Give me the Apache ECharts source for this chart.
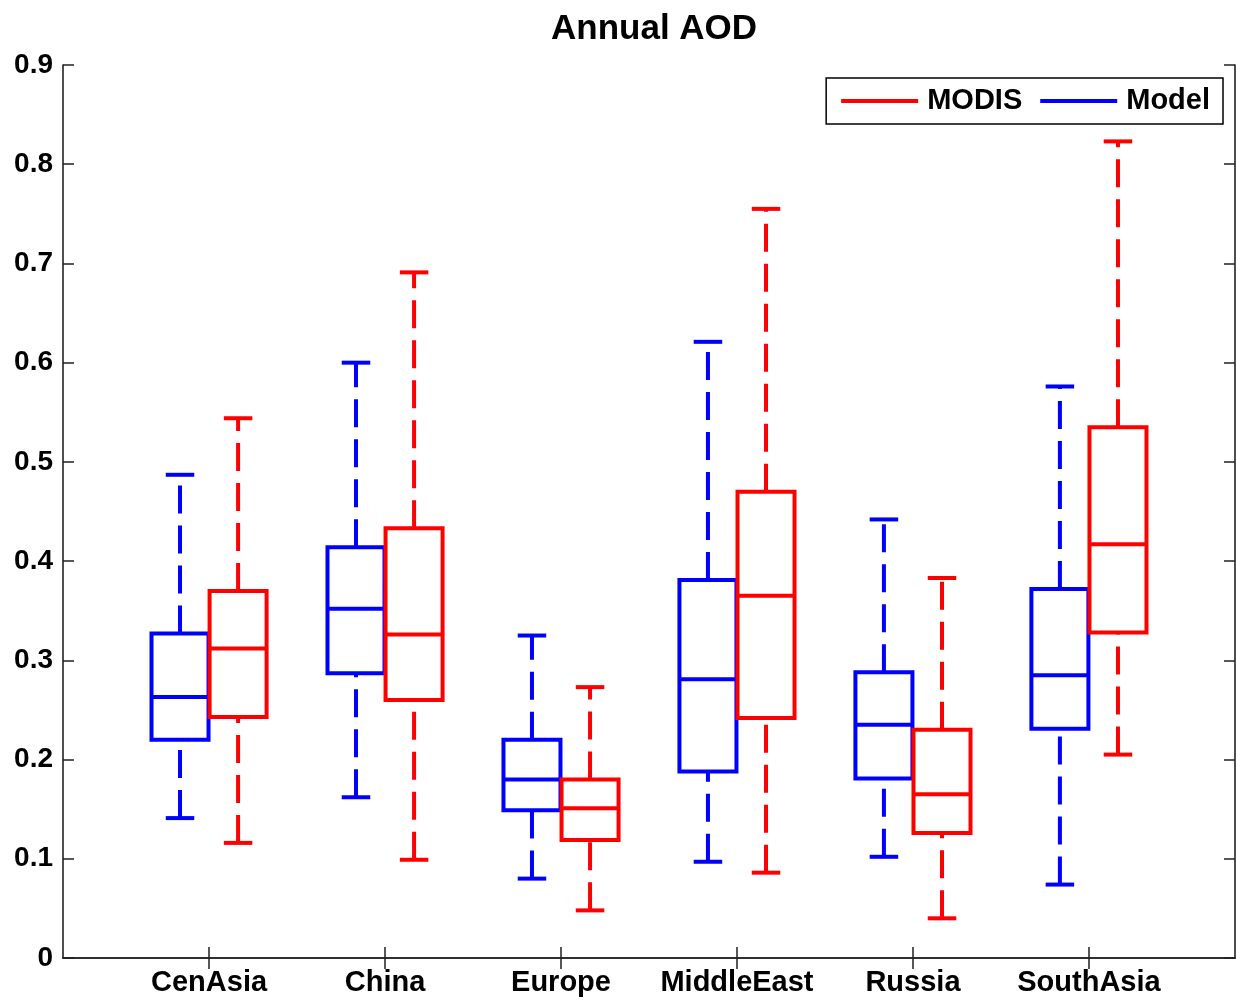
<!DOCTYPE html>
<html>
<head>
<meta charset="utf-8">
<script src="https://cdn.jsdelivr.net/npm/echarts@6/dist/echarts.min.js"></script>
<style>
  html, body { margin: 0; padding: 0; background: #fff; }
  #main { width: 1236px; height: 1000px; }
</style>
</head>
<body>
<div id="main"></div>
<script>
var categories = ['CenAsia', 'China', 'Europe', 'MiddleEast', 'Russia', 'SouthAsia'];

// Model (blue)
var modelLow  = [0.141, 0.162, 0.080, 0.097, 0.102, 0.074];
var modelQ1   = [0.220, 0.287, 0.149, 0.188, 0.181, 0.231];
var modelMed  = [0.263, 0.352, 0.180, 0.281, 0.235, 0.285];
var modelQ3   = [0.327, 0.414, 0.220, 0.381, 0.288, 0.372];
var modelHigh = [0.487, 0.600, 0.325, 0.621, 0.442, 0.576];

// MODIS (red)
var modisLow  = [0.116, 0.099, 0.048, 0.086, 0.040, 0.205];
var modisQ1   = [0.243, 0.260, 0.119, 0.242, 0.126, 0.328];
var modisMed  = [0.312, 0.326, 0.151, 0.365, 0.165, 0.417];
var modisQ3   = [0.370, 0.433, 0.180, 0.470, 0.230, 0.535];
var modisHigh = [0.544, 0.691, 0.273, 0.755, 0.383, 0.823];

var yTicks = [0, 0.1, 0.2, 0.3, 0.4, 0.5, 0.6, 0.7, 0.8, 0.9];

var chartDom = document.getElementById('main');
var myChart = echarts.init(chartDom);

var FONT = "'Liberation Sans', Arial, Helvetica, sans-serif";
var BOX_W = 0.324;
var OFFSET = 0.165;
var tickPos = categories.map(function (c, i) { return i + 1; });

function makeData(low, q1, med, q3, high, shift) {
	var out = [];
	for (var i = 0; i < categories.length; i++) {
		out.push([i + 1 + shift, low[i], q1[i], med[i], q3[i], high[i]]);
	}
	return out;
}

function boxRenderer(color) {
	return function (params, api) {
		var x = api.value(0);
		var lo = api.coord([x, api.value(1)]);
		var q1 = api.coord([x, api.value(2)]);
		var md = api.coord([x, api.value(3)]);
		var q3 = api.coord([x, api.value(4)]);
		var hi = api.coord([x, api.value(5)]);
		var half = api.size([BOX_W, 0])[0] / 2;
		var cap = half / 2;
		var cx = lo[0];
		var solid = { stroke: color, lineWidth: 4, fill: null, lineJoin: 'miter' };
		var dashed = { stroke: color, lineWidth: 4, lineDash: [28, 12] };
		return {
			type: 'group',
			children: [
				// whiskers (drawn upward like matlab)
				{ type: 'line', shape: { x1: cx, y1: lo[1], x2: cx, y2: q1[1] }, style: dashed },
				{ type: 'line', shape: { x1: cx, y1: q3[1], x2: cx, y2: hi[1] }, style: dashed },
				{ type: 'line', shape: { x1: cx - cap, y1: lo[1], x2: cx + cap, y2: lo[1] }, style: solid },
				{ type: 'line', shape: { x1: cx - cap, y1: hi[1], x2: cx + cap, y2: hi[1] }, style: solid },
				{ type: 'rect', shape: { x: cx - half, y: q3[1], width: half * 2, height: q1[1] - q3[1] }, style: solid },
				{ type: 'line', shape: { x1: cx - half, y1: md[1], x2: cx + half, y2: md[1] }, style: solid }
			]
		};
	};
}

var axisLine = { show: true, lineStyle: { color: '#222', width: 1.6 } };
var xCommon = {
	type: 'value',
	min: 0.17,
	max: 6.83,
	splitLine: { show: false },
	axisLine: axisLine
};
var yCommon = {
	type: 'value',
	min: 0,
	max: 0.9,
	interval: 0.1,
	splitLine: { show: false },
	axisLine: axisLine,
	axisTick: { show: true, inside: true, length: 11, lineStyle: { color: '#222', width: 1.5 } }
};

var option = {
	backgroundColor: '#fff',
	animation: false,
	title: {
		text: 'Annual AOD',
		left: 546,
		top: 7,
		textStyle: { fontFamily: FONT, fontWeight: 'bold', fontSize: 35, color: '#000' }
	},
	legend: {
		right: 13,
		top: 78,
		orient: 'horizontal',
		selectedMode: false,
		itemWidth: 77,
		itemHeight: 4,
		itemGap: 18,
		padding: [8, 13, 8, 15],
		borderColor: '#000',
		borderWidth: 1.5,
		borderRadius: 0,
		backgroundColor: '#fff',
		itemStyle: { borderWidth: 0 },
		textStyle: { fontFamily: FONT, fontWeight: 'bold', fontSize: 29, color: '#000', lineHeight: 30, padding: [0, 0, 0, 4] },
		data: [
			{ name: 'MODIS', icon: 'rect' },
			{ name: 'Model', icon: 'rect' }
		]
	},
	grid: { left: 63, right: 1, top: 65, bottom: 42 },
	xAxis: [
		echarts.util.merge({
			position: 'bottom',
			axisTick: { show: true, inside: true, length: 11, customValues: tickPos, lineStyle: { color: '#222', width: 1.5 } },
			axisLabel: {
				customValues: tickPos,
				margin: 10,
				fontFamily: FONT, fontWeight: 'bold', fontSize: 29, color: '#000',
				formatter: function (v) { return categories[Math.round(v) - 1] || ''; }
			}
		}, xCommon),
		echarts.util.merge({
			position: 'top',
			axisTick: { show: true, inside: true, length: 11, customValues: tickPos, lineStyle: { color: '#222', width: 1.5 } },
			axisLabel: { show: false }
		}, xCommon)
	],
	yAxis: [
		echarts.util.merge({
			position: 'left',
			axisLabel: {
				margin: 10,
				fontFamily: FONT, fontWeight: 'bold', fontSize: 28, color: '#000',
				formatter: function (v) {
					var t = yTicks[Math.round(v * 10)];
					return t === 0 ? '0' : t.toFixed(1);
				}
			}
		}, yCommon),
		echarts.util.merge({
			position: 'right',
			axisLabel: { show: false }
		}, yCommon)
	],
	series: [
		{
			name: 'Model',
			type: 'custom',
			xAxisIndex: 0,
			yAxisIndex: 0,
			itemStyle: { color: '#0000ff' },
			renderItem: boxRenderer('#0000ff'),
			encode: { x: 0, y: [1, 2, 3, 4, 5] },
			data: makeData(modelLow, modelQ1, modelMed, modelQ3, modelHigh, -OFFSET)
		},
		{
			name: 'MODIS',
			type: 'custom',
			xAxisIndex: 0,
			yAxisIndex: 0,
			itemStyle: { color: '#ff0000' },
			renderItem: boxRenderer('#ff0000'),
			encode: { x: 0, y: [1, 2, 3, 4, 5] },
			data: makeData(modisLow, modisQ1, modisMed, modisQ3, modisHigh, OFFSET)
		}
	]
};

myChart.setOption(option);
</script>
</body>
</html>
